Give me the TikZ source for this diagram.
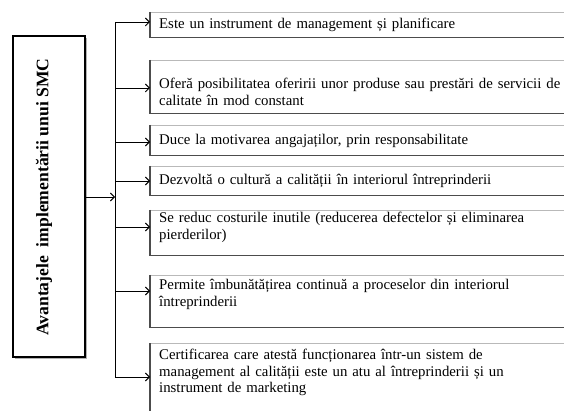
\documentclass[tikz,border=0pt]{standalone}
\usepackage{fontspec}
\setmainfont{Liberation Serif}
\usetikzlibrary{arrows.meta}
\begin{document}
\begin{tikzpicture}[x=1pt,y=-1pt,
  itembox/.style={draw=gray!55, line width=0.8pt, anchor=north west, minimum width=440pt, inner sep=0pt},
  itemtext/.style={anchor=west, text width=410pt, align=left, inner xsep=9pt, inner ysep=0pt,
    font=\fontsize{14.8}{16.5}\selectfont},
  edge/.style={draw=black!70, line width=1.1pt},
  arr/.style={line width=0.9pt, -{Straight Barb[length=4pt,width=8pt,line width=0.9pt]}},
  mainbox/.style={draw=black, line width=1.6pt, minimum width=72pt, minimum height=321pt, inner sep=0pt}
]
\useasboundingbox (0,0) rectangle (564,411);
% main box
\fill[gray!60] (15,38) rectangle (87,359);
\node[mainbox, fill=white] (main) at (49,196.5) {};
\node[rotate=90, font=\fontsize{17.6}{20}\bfseries\selectfont] (mtext) at (44,197) {Avantajele\ \ implementării unui SMC};
% boxes
\node[itembox, minimum height=25pt] (b1) at (150,12) {};
\node[itembox, minimum height=53pt] (b2) at (150,60) {};
\node[itembox, minimum height=30pt] (b3) at (150,125) {};
\node[itembox, minimum height=29pt] (b4) at (150,166) {};
\node[itembox, minimum height=45pt] (b5) at (150,210) {};
\node[itembox, minimum height=52pt] (b6) at (150,275) {};
\node[itembox, minimum height=80pt] (b7) at (150,343) {};
\foreach \b in {b1,b2,b3,b4,b5,b6,b7}{
  \draw[edge] (\b.north west) -- (\b.south west) -- (\b.south east);
}
% texts
\node[itemtext] (t1) at (150,25) {Este un instrument de management și planificare};
\node[itemtext] (t2) at (150,92) {Oferă posibilitatea oferirii unor produse sau prestări de servicii de\\calitate în mod constant};
\node[itemtext] (t3) at (150,140.5) {Duce la motivarea angajaților, prin responsabilitate};
\node[itemtext] (t4) at (150,180.5) {Dezvoltă o cultură a calității în interiorul întreprinderii};
\node[itemtext] (t5) at (150,227.5) {Se reduc costurile inutile (reducerea defectelor și eliminarea\\pierderilor)};
\node[itemtext] (t6) at (150,294.5) {Permite îmbunătățirea continuă a proceselor din interiorul\\întreprinderii};
\node[itemtext] (t7) at (150,372.5) {Certificarea care atestă funcționarea într-un sistem de\\management al calității este un atu al întreprinderii și un\\instrument de marketing};
% bus
\coordinate (a1) at (115,22);
\coordinate (a2) at (115,88);
\coordinate (a3) at (115,142);
\coordinate (a4) at (115,181);
\coordinate (a5) at (115,227);
\coordinate (a6) at (115,291);
\coordinate (a7) at (115,377);
\coordinate (am) at (115,197);
\draw[line width=0.9pt] (a1) -- (a7);
\draw[arr] (main.east |- am) -- (am);
\foreach \i in {1,...,7}{
  \draw[arr] (a\i) -- (a\i -| b\i.west);
}
\end{tikzpicture}
\end{document}
